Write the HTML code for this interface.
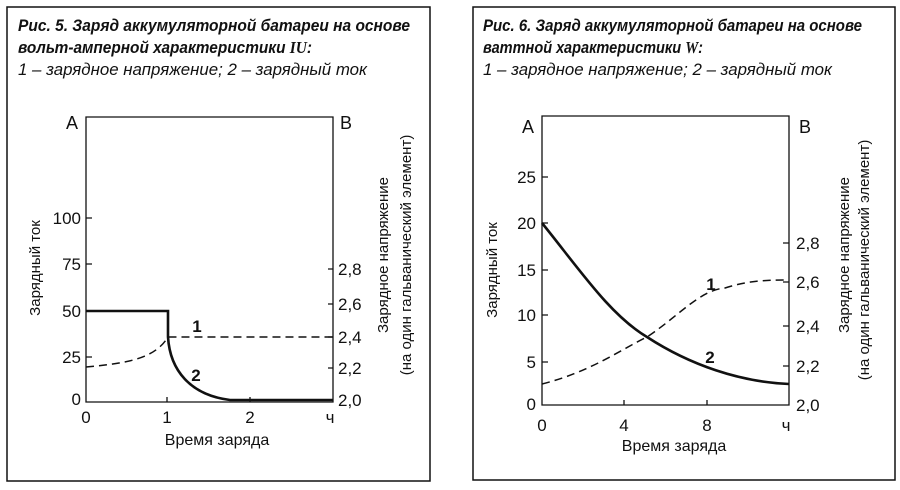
<!DOCTYPE html>
<html><head><meta charset="utf-8"><style>
html,body{margin:0;padding:0;background:#fff}
svg{display:block}
text{font-family:"Liberation Sans","DejaVu Sans",sans-serif;fill:#111}
.t{font-weight:bold;font-style:italic;font-size:17px}
.s{font-style:italic;font-size:17px}
.k{font-size:17px}
.a{font-size:15px}
</style></head><body>
<svg width="900" height="490" viewBox="0 0 900 490" xmlns="http://www.w3.org/2000/svg">
<g fill="none" stroke="#111">
<rect x="7" y="7" width="423" height="474" stroke-width="1.5"/>
<rect x="473" y="7" width="422" height="473" stroke-width="1.5"/>
</g>
<text class="t" x="18" y="31" textLength="392" lengthAdjust="spacingAndGlyphs">Рис. 5. Заряд аккумуляторной батареи на основе</text>
<text class="t" x="18" y="53" textLength="294" lengthAdjust="spacingAndGlyphs">вольт-амперной характеристики <tspan font-family="Liberation Serif">IU</tspan>:</text>
<text class="s" x="18" y="75" textLength="349" lengthAdjust="spacingAndGlyphs">1 – зарядное напряжение; 2 – зарядный ток</text>
<text class="t" x="483" y="31" textLength="379" lengthAdjust="spacingAndGlyphs">Рис. 6. Заряд аккумуляторной батареи на основе</text>
<text class="t" x="483" y="53" textLength="220" lengthAdjust="spacingAndGlyphs">ваттной характеристики <tspan font-family="Liberation Serif">W</tspan>:</text>
<text class="s" x="483" y="75" textLength="349" lengthAdjust="spacingAndGlyphs">1 – зарядное напряжение; 2 – зарядный ток</text>

<g stroke="#111" fill="none" stroke-width="1.3">
<path d="M86 117 H333 V402 H86 Z"/>
<path d="M86 218 h6 M86 264 h6 M86 311 h6 M86 357 h6 M167 402 v-5 M250 402 v-5 M333 269 h-5 M333 304 h-5 M333 337 h-5 M333 368 h-5"/>
<path d="M86 311 H168 V337 C170 370 190 395 230 400 H333" stroke-width="2.6"/>
<path d="M86 367 C130 363 155 358 168 337 H333" stroke-dasharray="8,5" stroke-width="1.5"/>
</g>
<g class="k">
<text x="66" y="129" font-size="18">А</text>
<text x="340" y="129" font-size="18">В</text>
<text x="81" y="224" text-anchor="end">100</text>
<text x="81" y="270" text-anchor="end">75</text>
<text x="81" y="317" text-anchor="end">50</text>
<text x="81" y="363" text-anchor="end">25</text>
<text x="81" y="405" text-anchor="end">0</text>
<text x="338" y="275">2,8</text>
<text x="338" y="310">2,6</text>
<text x="338" y="343">2,4</text>
<text x="338" y="374">2,2</text>
<text x="338" y="406">2,0</text>
<text x="86" y="423" text-anchor="middle">0</text>
<text x="167" y="423" text-anchor="middle">1</text>
<text x="250" y="423" text-anchor="middle">2</text>
<text x="330" y="423" text-anchor="middle">ч</text>
<text x="217" y="445" text-anchor="middle" font-size="16">Время заряда</text>
<text x="197" y="332" font-weight="bold" text-anchor="middle">1</text>
<text x="196" y="381" font-weight="bold" text-anchor="middle">2</text>
</g>
<text class="a" transform="translate(40,268) rotate(-90)" text-anchor="middle">Зарядный ток</text>
<text class="a" transform="translate(388,255) rotate(-90)" text-anchor="middle">Зарядное напряжение</text>
<text class="a" transform="translate(411,255) rotate(-90)" text-anchor="middle">(на один гальванический элемент)</text>

<g stroke="#111" fill="none" stroke-width="1.3">
<path d="M542 116 H789 V405 H542 Z"/>
<path d="M542 177 h6 M542 223 h6 M542 270 h6 M542 315 h6 M542 362 h6 M624 405 v-5 M707 405 v-5 M789 243 h-6 M789 282 h-6 M789 326 h-6 M789 366 h-6"/>
<path d="M542 223 C580 270 610 315 647 337 C690 365 740 382 789 384" stroke-width="2.6"/>
<path d="M542 384 C590 372 620 350 647 337 C680 315 700 290 725 288 C750 280 770 280 789 280" stroke-dasharray="8,5" stroke-width="1.5"/>
</g>
<g class="k">
<text x="522" y="133" font-size="18">А</text>
<text x="799" y="133" font-size="18">В</text>
<text x="536" y="183" text-anchor="end">25</text>
<text x="536" y="229" text-anchor="end">20</text>
<text x="536" y="276" text-anchor="end">15</text>
<text x="536" y="321" text-anchor="end">10</text>
<text x="536" y="368" text-anchor="end">5</text>
<text x="536" y="410" text-anchor="end">0</text>
<text x="796" y="249">2,8</text>
<text x="796" y="288">2,6</text>
<text x="796" y="332">2,4</text>
<text x="796" y="372">2,2</text>
<text x="796" y="411">2,0</text>
<text x="542" y="431" text-anchor="middle">0</text>
<text x="624" y="431" text-anchor="middle">4</text>
<text x="707" y="431" text-anchor="middle">8</text>
<text x="786" y="431" text-anchor="middle">ч</text>
<text x="674" y="451" text-anchor="middle" font-size="16">Время заряда</text>
<text x="711" y="290" font-weight="bold" text-anchor="middle">1</text>
<text x="710" y="363" font-weight="bold" text-anchor="middle">2</text>
</g>
<text class="a" transform="translate(497,270) rotate(-90)" text-anchor="middle">Зарядный ток</text>
<text class="a" transform="translate(849,255) rotate(-90)" text-anchor="middle">Зарядное напряжение</text>
<text class="a" transform="translate(869,260) rotate(-90)" text-anchor="middle">(на один гальванический элемент)</text>
</svg>
</body></html>
